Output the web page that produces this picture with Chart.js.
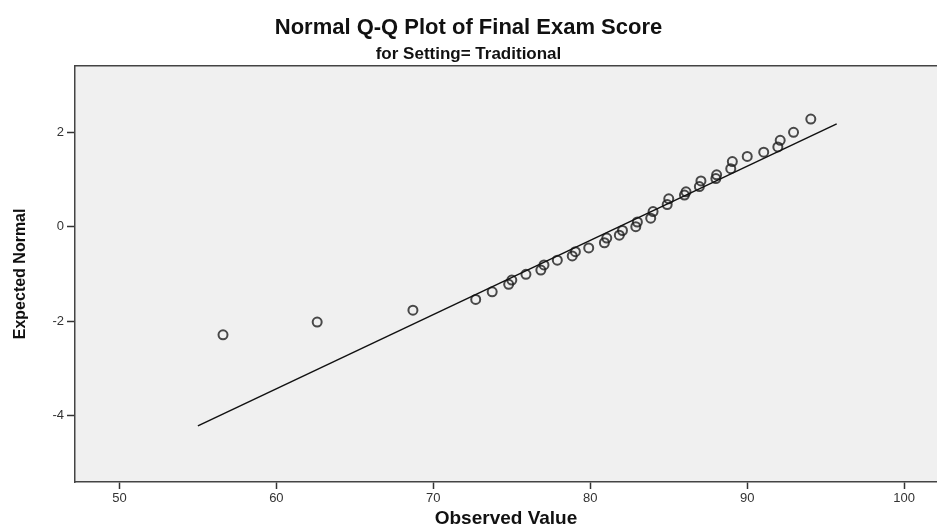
<!DOCTYPE html>
<html>
<head>
<meta charset="utf-8">
<script src="https://cdn.jsdelivr.net/npm/chart.js@4.4.1/dist/chart.umd.min.js"></script>
<style>
  html, body { margin: 0; padding: 0; background: #fff; overflow: hidden; }
  #wrap { width: 937px; height: 530px; }
</style>
</head>
<body>
<div id="wrap"><canvas id="qqChart"></canvas></div>
<script>

// data

const observedValues = [56.6, 62.6, 68.7, 72.7, 73.75, 74.8, 75.0, 75.9, 76.85, 77.05, 77.9, 78.85, 79.05, 79.9, 80.9, 81.05, 81.85, 82.05, 82.9, 83.0, 83.85, 84.0, 84.9, 85.0, 86.0, 86.1, 86.95, 87.05, 88.0, 88.05, 88.95, 89.05, 90.0, 91.05, 91.95, 92.1, 92.95, 94.05];
const expectedNormal = [-2.29, -2.02, -1.77, -1.54, -1.38, -1.22, -1.13, -1.01, -0.92, -0.81, -0.71, -0.62, -0.53, -0.45, -0.34, -0.24, -0.18, -0.08, 0.0, 0.1, 0.18, 0.32, 0.47, 0.59, 0.67, 0.74, 0.85, 0.97, 1.02, 1.10, 1.23, 1.38, 1.49, 1.58, 1.69, 1.83, 2.0, 2.28];

// reference line end points
const lineX = [55.0, 95.7];
const lineY = [-4.22, 2.18];

const xTickValues = [50, 60, 70, 80, 90, 100];
const yTickValues = [-4, -2, 0, 2];

const chartTitle = 'Normal Q-Q Plot of Final Exam Score';
const chartSubtitle = 'for Setting= Traditional';
const xTitle = 'Observed Value';
const yTitle = 'Expected Normal';

const fontFamily = "'Liberation Sans', Arial, sans-serif";

// background + top edge of the plot frame
const framePlugin = {
  id: 'frame',
  beforeDraw(chart) {
    const a = chart.chartArea;
    const c = chart.ctx;
    c.save();
    c.fillStyle = '#f0f0f0';
    c.fillRect(a.left, a.top, a.right - a.left, a.bottom - a.top);
    c.restore();
  },
  afterDraw(chart) {
    const a = chart.chartArea;
    const c = chart.ctx;
    c.save();
    c.strokeStyle = '#444';
    c.lineWidth = 1.5;
    c.beginPath();
    c.moveTo(a.left, a.top);
    c.lineTo(a.right, a.top);
    c.stroke();
    c.restore();
  }
};

const ctx = document.getElementById('qqChart');

new Chart(ctx, {
  type: 'scatter',
  data: {
    datasets: [{
      label: 'Observed',
      data: observedValues.map((v, i) => ({x: v, y: expectedNormal[i]})),
      pointStyle: 'circle',
      pointRadius: 4.5,
      pointBorderWidth: 2,
      pointBackgroundColor: 'rgba(0,0,0,0)',
      pointBorderColor: 'rgba(30,30,30,0.8)',
      order: 2
    }, {
      label: 'Reference',
      type: 'line',
      data: lineX.map((v, i) => ({x: v, y: lineY[i]})),
      borderColor: '#111',
      borderWidth: 1.5,
      pointRadius: 0,
      fill: false,
      order: 1
    }]
  },
  options: {
    responsive: true,
    maintainAspectRatio: false,
    animation: false,
    layout: { padding: 0, autoPadding: false },
    plugins: {
      legend: { display: false },
      tooltip: { enabled: false },
      title: {
        display: true,
        text: chartTitle,
        color: '#111',
        font: { family: fontFamily, size: 22, weight: 'bold', lineHeight: 1.2 },
        padding: { top: 15, bottom: 1 }
      },
      subtitle: {
        display: true,
        text: chartSubtitle,
        color: '#111',
        font: { family: fontFamily, size: 17, weight: 'bold', lineHeight: 1.2 },
        padding: { top: 2, bottom: 1 }
      }
    },
    scales: {
      x: {
        type: 'linear',
        min: 47.17,
        max: 102.09,
        afterFit(scale) {
          scale.height = 48;
          scale.paddingLeft = 0;
          scale.paddingRight = 0;
        },
        afterBuildTicks(scale) { scale.ticks = xTickValues.map(v => ({value: v})); },
        grid: { drawOnChartArea: false, drawTicks: true, tickLength: 7, tickColor: '#333', tickWidth: 1.5 },
        border: { display: true, color: '#444', width: 1.5 },
        ticks: { color: '#333', padding: 2, font: { family: fontFamily, size: 13 } },
        title: {
          display: true,
          text: xTitle,
          color: '#111',
          font: { family: fontFamily, size: 19, weight: 'bold', lineHeight: 1.2 },
          padding: { top: 0, bottom: 0 }
        }
      },
      y: {
        type: 'linear',
        min: -5.41,
        max: 3.41,
        afterFit(scale) { scale.width = 75; },
        afterBuildTicks(scale) { scale.ticks = yTickValues.map(v => ({value: v})); },
        grid: { drawOnChartArea: false, drawTicks: true, tickLength: 8, tickColor: '#333', tickWidth: 1.5 },
        border: { display: true, color: '#444', width: 1.5 },
        ticks: { color: '#333', padding: 3, font: { family: fontFamily, size: 13 } },
        title: {
          display: true,
          text: yTitle,
          color: '#111',
          font: { family: fontFamily, size: 16, weight: 'bold', lineHeight: 1.2 },
          padding: { top: 11, bottom: 0 }
        }
      }
    }
  },
  plugins: [framePlugin]
});

</script>
</body>
</html>
